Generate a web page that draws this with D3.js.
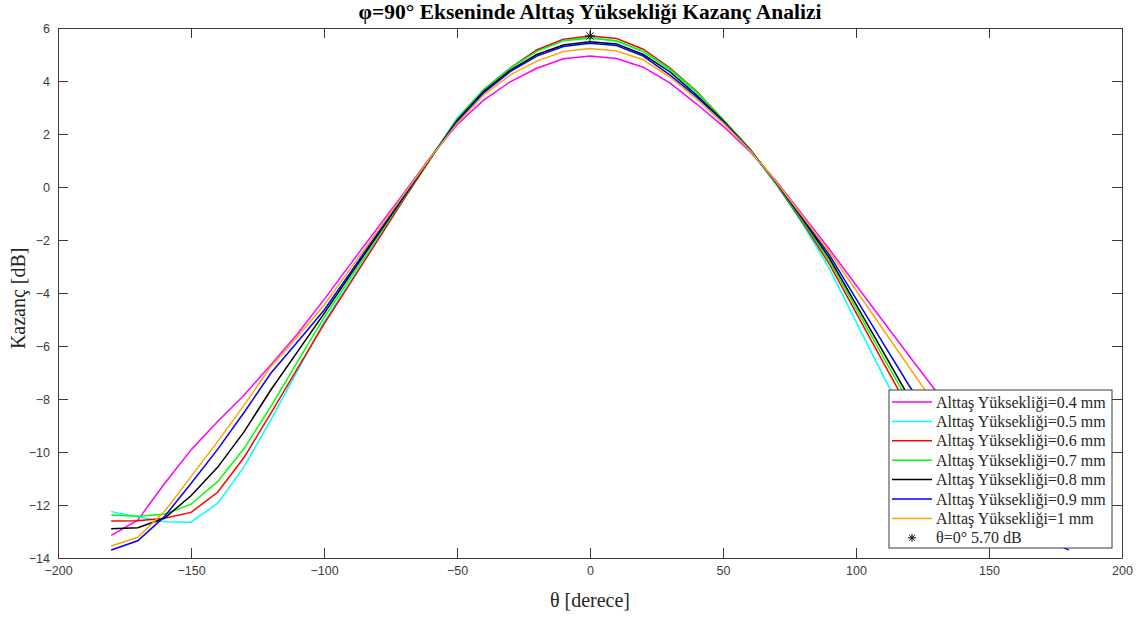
<!DOCTYPE html>
<html>
<head>
<meta charset="utf-8">
<script src="https://cdn.jsdelivr.net/npm/d3@7"></script>
<style>
  body { margin: 0; background: #fff; }
  svg { display: block; }
  .tick text { font-family: "Liberation Sans", Arial, sans-serif; font-size: 12.5px; fill: #3a3a3a; }
  .tick line { stroke: #3a3a3a; }
  .domain { stroke: #3a3a3a; }
</style>
</head>
<body>
<div id="chart-area"></div>
<script>
// theta angles (degrees)
const theta = [-180, -170, -160, -150, -140, -130, -120, -110, -100, -90, -80, -70, -60,
  -50, -40, -30, -20, -10, 0, 10, 20, 30, 40, 50, 60, 70, 80, 90, 100, 110, 120, 130,
  140, 150, 160, 170, 180];

// gain [dB] per substrate height
const h04 = [-13.15, -12.57, -11.2, -9.92, -8.85, -7.85, -6.72, -5.55, -4.25, -2.9, -1.56, -0.23, 1.12,
  2.35, 3.28, 3.97, 4.48, 4.84, 4.94, 4.85, 4.52, 3.93, 3.14, 2.3, 1.35, 0.23, -1.06, -2.35, -3.7, -5.04,
  -6.38, -7.7, -8.9, -9.95, -11.2, -12.5, -13.15];
const h05 = [-12.25, -12.44, -12.63, -12.65, -11.94, -10.55, -8.79, -6.95, -5.1, -3.55, -2.0, -0.45, 1.08,
  2.6, 3.68, 4.5, 5.18, 5.55, 5.65, 5.5, 5.1, 4.42, 3.55, 2.5, 1.4, 0.1, -1.4, -3.08, -5.08, -7.08,
  -9.0, -10.5, -11.7, -12.5, -12.6, -12.4, -12.25];
const h06 = [-12.6, -12.59, -12.5, -12.28, -11.52, -10.2, -8.54, -6.85, -5.17, -3.61, -2.04, -0.47, 1.05,
  2.55, 3.66, 4.48, 5.17, 5.58, 5.70, 5.6, 5.2, 4.5, 3.62, 2.55, 1.45, 0.12, -1.34, -2.91, -4.74, -6.57,
  -8.4, -10.0, -11.3, -12.2, -12.5, -12.6, -12.6];
const h07 = [-12.38, -12.42, -12.35, -11.97, -11.12, -9.86, -8.29, -6.6, -4.93, -3.42, -1.91, -0.41, 1.08,
  2.55, 3.66, 4.48, 5.12, 5.52, 5.61, 5.52, 5.12, 4.46, 3.6, 2.55, 1.45, 0.14, -1.29, -2.79, -4.58, -6.37,
  -8.15, -9.8, -11.0, -11.9, -12.3, -12.4, -12.38];
const h08 = [-12.9, -12.86, -12.5, -11.65, -10.58, -9.23, -7.66, -6.22, -4.78, -3.3, -1.83, -0.37, 1.08,
  2.5, 3.6, 4.4, 5.0, 5.36, 5.48, 5.4, 5.0, 4.35, 3.47, 2.5, 1.42, 0.17, -1.22, -2.68, -4.43, -6.18,
  -7.95, -9.5, -10.6, -11.6, -12.4, -12.8, -12.9];
const h09 = [-13.7, -13.35, -12.44, -11.19, -9.9, -8.5, -7.03, -5.85, -4.65, -3.21, -1.77, -0.34, 1.1,
  2.45, 3.55, 4.35, 4.94, 5.3, 5.42, 5.34, 4.94, 4.23, 3.41, 2.48, 1.42, 0.18, -1.18, -2.56, -4.21, -5.86,
  -7.5, -9.0, -10.2, -11.2, -12.3, -13.2, -13.7];
const h10 = [-13.55, -13.22, -12.25, -10.93, -9.61, -8.23, -6.78, -5.65, -4.46, -3.07, -1.68, -0.29, 1.1,
  2.4, 3.47, 4.23, 4.75, 5.11, 5.23, 5.13, 4.8, 4.16, 3.32, 2.42, 1.4, 0.2, -1.12, -2.45, -3.9, -5.35,
  -6.8, -8.25, -9.6, -10.9, -12.2, -13.1, -13.55];

const seriesNames = ["Alttaş Yüksekliği=0.4 mm", "Alttaş Yüksekliği=0.5 mm", "Alttaş Yüksekliği=0.6 mm",
  "Alttaş Yüksekliği=0.7 mm", "Alttaş Yüksekliği=0.8 mm", "Alttaş Yüksekliği=0.9 mm", "Alttaş Yüksekliği=1 mm"];
const seriesValues = [h04, h05, h06, h07, h08, h09, h10];
const seriesColors = ["#ff00ff", "#00ffff", "#ff0000", "#00ff00", "#000000", "#0000ff", "#ffa500"];

const peakTheta = 0;
const peakGain = 5.70;
const peakLabel = "θ=0° 5.70 dB";

const xTicks = [-200, -150, -100, -50, 0, 50, 100, 150, 200];
const yTicks = [-14, -12, -10, -8, -6, -4, -2, 0, 2, 4, 6];

const width = 1142, height = 617;
const margin = { left: 58, right: 20, top: 28, bottom: 59 };

const svg = d3.select("#chart-area").append("svg")
  .attr("width", width)
  .attr("height", height);

const x = d3.scaleLinear().domain([-200, 200]).range([margin.left, width - margin.right]);
const y = d3.scaleLinear().domain([-14, 6]).range([height - margin.bottom, margin.top]);

// axes, ticks pointing inward like matlab
svg.append("g")
  .attr("transform", `translate(0,${y(-14)})`)
  .call(d3.axisBottom(x).tickValues(xTicks).tickSize(-10).tickSizeOuter(0).tickPadding(8));
svg.append("g")
  .attr("transform", `translate(0,${y(6)})`)
  .call(d3.axisTop(x).tickValues(xTicks).tickSize(-10).tickSizeOuter(0).tickFormat(""));
svg.append("g")
  .attr("transform", `translate(${x(-200)},0)`)
  .call(d3.axisLeft(y).tickValues(yTicks).tickSize(-10).tickSizeOuter(0).tickPadding(8));
svg.append("g")
  .attr("transform", `translate(${x(200)},0)`)
  .call(d3.axisRight(y).tickValues(yTicks).tickSize(-10).tickSizeOuter(0).tickFormat(""));

svg.selectAll(".tick text").attr("fill", "#3a3a3a");

const line = d3.line()
  .x((d, i) => x(theta[i]))
  .y(d => y(d));

svg.selectAll("path.series")
  .data(seriesValues)
  .enter()
  .append("path")
  .attr("class", "series")
  .attr("d", line)
  .attr("fill", "none")
  .attr("stroke", (d, i) => seriesColors[i])
  .attr("stroke-width", 1.5);

// asterisk marker
function asterisk(g, cx, cy, r) {
  const angles = [0, 45, 90, 135];
  angles.forEach(a => {
    const rad = a * Math.PI / 180;
    g.append("line")
      .attr("x1", cx - r * Math.cos(rad)).attr("y1", cy - r * Math.sin(rad))
      .attr("x2", cx + r * Math.cos(rad)).attr("y2", cy + r * Math.sin(rad))
      .attr("stroke", "#000").attr("stroke-width", 1);
  });
}
asterisk(svg, x(peakTheta), y(peakGain), 5);

// title and labels
svg.append("text")
  .attr("x", x(0))
  .attr("y", 19)
  .attr("text-anchor", "middle")
  .attr("font-family", "'Liberation Serif', 'Times New Roman', serif")
  .attr("font-weight", "bold")
  .attr("font-size", 21.5)
  .text("φ=90° Ekseninde Alttaş Yüksekliği Kazanç Analizi");

svg.append("text")
  .attr("x", x(0))
  .attr("y", 607)
  .attr("text-anchor", "middle")
  .attr("font-family", "'Liberation Serif', 'Times New Roman', serif")
  .attr("font-size", 20)
  .attr("fill", "#262626")
  .text("θ [derece]");

svg.append("text")
  .attr("transform", `translate(25,${y(-4.2)}) rotate(-90)`)
  .attr("text-anchor", "middle")
  .attr("font-family", "'Liberation Serif', 'Times New Roman', serif")
  .attr("font-size", 20)
  .attr("fill", "#262626")
  .text("Kazanç [dB]");

// legend
const legend = svg.append("g");
legend.append("rect")
  .attr("x", 889).attr("y", 390)
  .attr("width", 223).attr("height", 158)
  .attr("fill", "#fff")
  .attr("stroke", "#3a3a3a")
  .attr("stroke-width", 1);

const rowY = i => 402 + i * 19.4;
seriesNames.forEach((name, i) => {
  legend.append("line")
    .attr("x1", 892).attr("x2", 932)
    .attr("y1", rowY(i)).attr("y2", rowY(i))
    .attr("stroke", seriesColors[i])
    .attr("stroke-width", 1.5);
  legend.append("text")
    .attr("x", 936).attr("y", rowY(i) + 5.5)
    .attr("font-family", "'Liberation Serif', 'Times New Roman', serif")
    .attr("font-size", 16)
    .attr("fill", "#262626")
    .text(name);
});
asterisk(legend, 912, rowY(7), 4);
legend.append("text")
  .attr("x", 936).attr("y", rowY(7) + 5.5)
  .attr("font-family", "'Liberation Serif', 'Times New Roman', serif")
  .attr("font-size", 16)
  .attr("fill", "#262626")
  .text(peakLabel);
</script>
</body>
</html>
